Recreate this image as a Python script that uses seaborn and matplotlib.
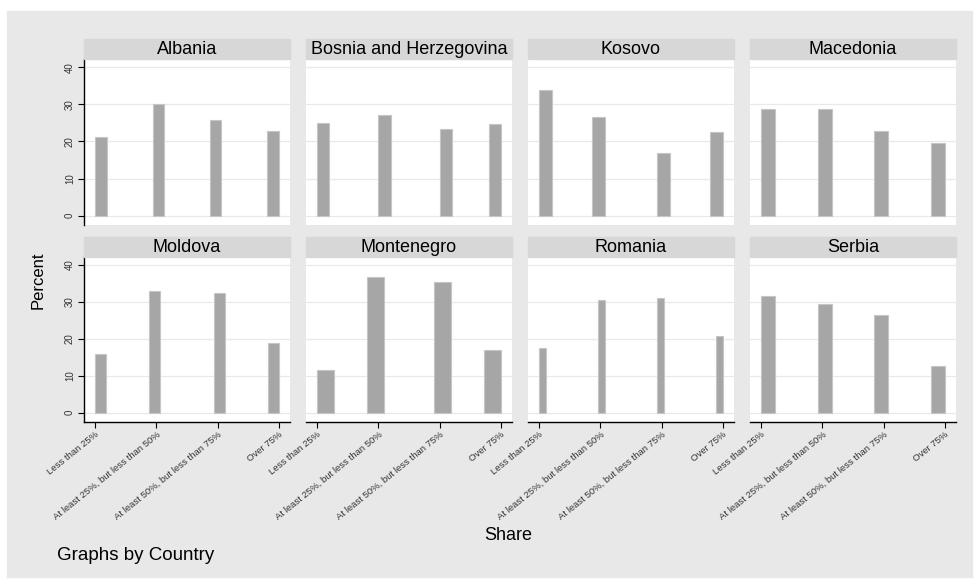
import pandas as pd
import matplotlib
matplotlib.use("Agg")
import matplotlib.pyplot as plt
from matplotlib.patches import Rectangle
import seaborn as sns

sns.set_style("white")
plt.rcParams['font.family'] = ['Liberation Sans', 'DejaVu Sans']
plt.rcParams['text.color'] = 'black'

# data (percent of respondents per share category)
countries = ["Albania", "Bosnia and Herzegovina", "Kosovo", "Macedonia",
             "Moldova", "Montenegro", "Romania", "Serbia"]
share_labels = ["Less than 25%", "At least 25%, but less than 50%",
                "At least 50%, but less than 75%", "Over 75%"]
share_codes = [1, 2, 3, 4]

albania = [21.2, 30.0, 25.9, 22.9]
bosnia = [25.0, 27.1, 23.3, 24.6]
kosovo = [33.8, 26.7, 16.9, 22.6]
macedonia = [28.8, 28.8, 22.7, 19.7]
moldova = [15.9, 32.9, 32.4, 18.9]
montenegro = [11.5, 36.7, 35.3, 17.0]
romania = [17.5, 30.5, 31.2, 20.9]
serbia = [31.6, 29.6, 26.4, 12.6]

# histogram bins Stata picked in each panel
n_bins = [16, 15, 14, 13, 17, 11, 25, 13]

rows = []
for c, vals in zip(countries, [albania, bosnia, kosovo, macedonia,
                               moldova, montenegro, romania, serbia]):
    for code, v in zip(share_codes, vals):
        rows.append({"Country": c, "Share": code, "Percent": v})
df = pd.DataFrame(rows)

W, H = 979, 581
fig = plt.figure(figsize=(W / 100, H / 100), dpi=100)
fig.patch.set_facecolor("white")
fig.patches.append(Rectangle((7 / W, 1 - 577 / H), (972 - 7) / W, (577 - 11) / H,
                             transform=fig.transFigure, color="#e8e8e8", zorder=-10))

row_top = [59, 257]
row_bot = [225, 422]
for i, country in enumerate(countries):
    r, col = divmod(i, 4)
    left = 84 + col * 222
    ax = fig.add_axes([left / W, 1 - row_bot[r] / H, 206 / W,
                       (row_bot[r] - row_top[r]) / H])
    ax.set_facecolor("white")
    sub = df[df["Country"] == country]
    sns.histplot(data=sub, x="Share", weights="Percent", bins=n_bins[i],
                 binrange=(1, 4), stat="count", ax=ax, color="#a6a6a6",
                 edgecolor="#c6c6c6", linewidth=0.8, alpha=1, zorder=3)
    # empty bins: hide them
    for p in ax.patches:
        if p.get_height() == 0:
            p.set_visible(False)
    ax.set_xlim(0.82, 4.18)
    ax.set_ylim(-2.5, 42.2)
    ax.set_yticks([0, 10, 20, 30, 40])
    ax.set_xticks(share_codes)
    ax.grid(axis="y", color="#e9e9e9", linewidth=0.9, zorder=0)
    ax.grid(axis="x", visible=False)
    ax.set_axisbelow(True)
    for s in ax.spines.values():
        s.set_visible(False)
    ax.set_xlabel("")
    ax.set_ylabel("")

    if col == 0:
        ax.spines["left"].set_visible(True)
        ax.spines["left"].set_color("black")
        ax.spines["left"].set_linewidth(1.0)
        ax.tick_params(axis="y", left=True, length=4.5, width=0.8, pad=2,
                       labelsize=7, labelcolor="#333333", color="black")
        for t in ax.get_yticklabels():
            t.set_rotation(90)
            t.set_va("center")
    else:
        ax.tick_params(axis="y", left=False, labelleft=False)

    if r == 1:
        ax.spines["bottom"].set_visible(True)
        ax.spines["bottom"].set_color("black")
        ax.spines["bottom"].set_linewidth(1.0)
        ax.set_xticklabels(share_labels, rotation=39, ha="right",
                           rotation_mode="anchor", fontsize=6.8, color="#333333")
        ax.tick_params(axis="x", bottom=True, length=4, width=0.8, pad=2,
                       color="black")
    else:
        ax.tick_params(axis="x", bottom=False, labelbottom=False)

    hh = 20 / (row_bot[r] - row_top[r])
    ax.add_patch(Rectangle((0, 1), 1, hh, transform=ax.transAxes,
                           color="#d7d7d7", clip_on=False, zorder=5))
    ax.text(0.5, 1 + hh / 2, country, transform=ax.transAxes, ha="center",
            va="center", fontsize=13, zorder=6)

fig.text(38 / W, 1 - 280 / H, "Percent", rotation=90, ha="center",
         va="center", fontsize=12)
fig.text(508 / W, 1 - 535 / H, "Share", ha="center", va="center", fontsize=13)
fig.text(57 / W, 1 - 555 / H, "Graphs by Country", ha="left", va="center",
         fontsize=13.5)

fig.savefig("out.png", dpi=100)
